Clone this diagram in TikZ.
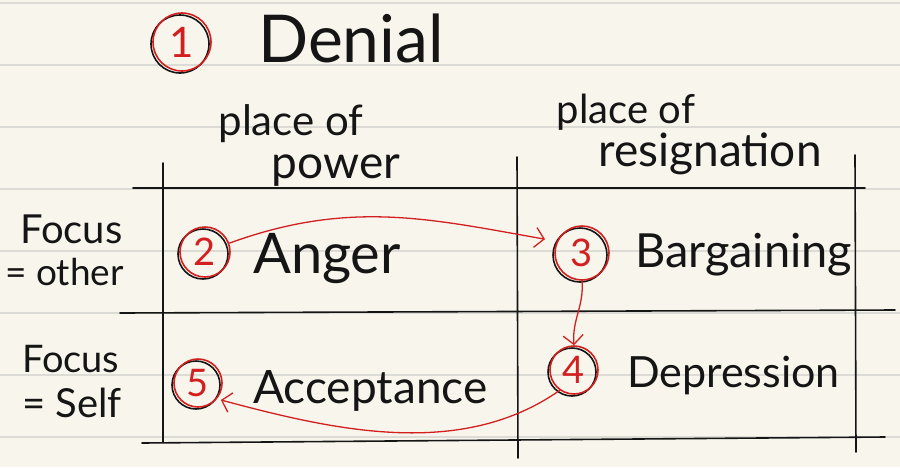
\documentclass[tikz,border=0pt]{standalone}
\usepackage{fontspec}
\setmainfont{Lato}
\definecolor{paper}{HTML}{F8F6EC}
\definecolor{ruling}{HTML}{DCDBD5}
\definecolor{ink}{HTML}{151515}
\definecolor{inkred}{HTML}{D21F1F}
\usetikzlibrary{arrows.meta}

\begin{document}
\begin{tikzpicture}[
  x=1pt,y=-1pt,
  txt/.style={font=\fontsize{#1}{#1}\selectfont,text=ink,inner sep=0pt,anchor=base west},
  head/.style={font=\fontsize{#1}{#1}\selectfont,text=ink,inner sep=0pt,anchor=base},
  numc/.style={circle,draw=inkred,line width=1.6pt,minimum size=#1,inner sep=0pt,
    text=inkred,font=\fontsize{38pt}{38pt}\selectfont,
    preaction={draw=ink,line width=1.6pt,transform canvas={shift={(-2pt,-2pt)}}}},
  ruleline/.style={color=ruling,line width=1.2pt},
  grid/.style={color=ink,line width=1.6pt,line cap=round},
  redarr/.style={-{Straight Barb[length=9pt,width=20pt]},color=inkred,line width=1.3pt}
]
  % paper
  \fill[paper] (0,0) rectangle (900,467);
  \useasboundingbox (0,0) rectangle (900,467);
  \foreach \y in {3,65,127,189,251,313,375,437}
    \draw[ruleline] (0,\y) -- (900,\y);

  % table
  \draw[grid] (133,188) -- (865,188);
  \draw[grid] (120,313) -- (895,310);
  \draw[grid] (142,443) -- (885,437);
  \draw[grid] (163,163) -- (163,442);
  \draw[grid] (517,157) -- (518,458);
  \draw[grid] (855,155) -- (856,452);

  % title
  \node[numc=58pt,font=\fontsize{42pt}{42pt}\selectfont] (n1) at (182,42) {1};
  \node[txt=66pt] (denial) at (258,62) {Denial};

  % column heads
  \node[head=42pt] (hpower1) at (291,135) {place of};
  \node[head=46pt] (hpower2) at (336,178) {power};
  \node[head=40pt] (hresig1) at (626,123) {place of};
  \node[head=46pt] (hresig2) at (710,166) {resignation};

  % row heads
  \node[txt=40pt] (rother1) at (20,243) {Focus};
  \node[txt=37pt] (rother2) at (5,285) {= other};
  \node[txt=38pt] (rself1) at (22,372) {Focus};
  \node[txt=40pt] (rself2) at (22,417) {= Self};

  % stages
  \node[numc=50pt] (n2) at (205,252) {2};
  \node[txt=56pt] (anger) at (253,273) {Anger};
  \node[numc=54pt] (n3) at (582,253) {3};
  \node[txt=47pt] (bargaining) at (635,267) {Bargaining};
  \node[numc=48pt] (n4) at (574,370) {4};
  \node[txt=43pt] (depression) at (627,387) {Depression};
  \node[numc=48pt] (n5) at (198,383) {5};
  \node[txt=46pt] (acceptance) at (253,403) {Acceptance};

  % flow
  \draw[redarr,shorten >=12pt] (n2.20) to[out=20,in=170] (n3.155);
  \draw[redarr] (n3.south) to[out=-85,in=95] (n4.north);
  \draw[redarr,shorten >=4pt] (n4.235) to[out=215,in=-15,looseness=0.9] (n5.-40);
\end{tikzpicture}
\end{document}
